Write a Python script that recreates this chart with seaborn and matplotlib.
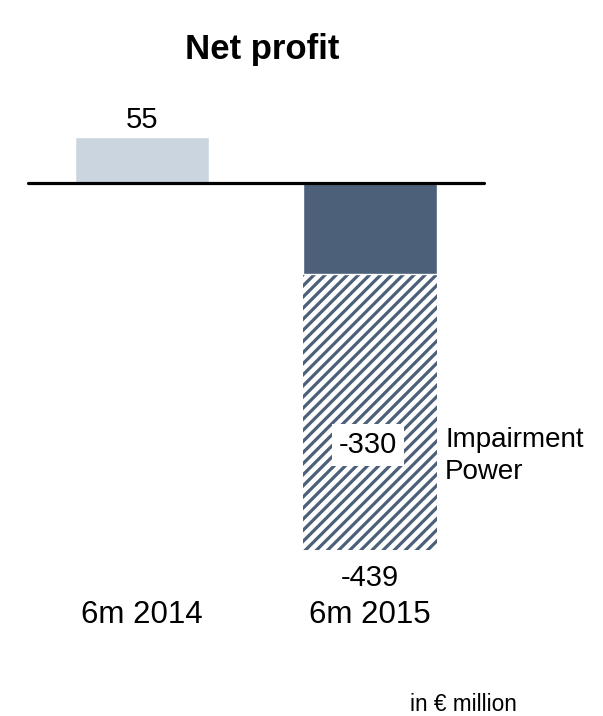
import pandas as pd
import seaborn as sns
import matplotlib.pyplot as plt

periods = ["6m 2014", "6m 2015"]
net_profit = [55, -439]
impairment_power = [0, -330]
# net profit without the impairment on power
underlying = [55, -109]

light = "#CBD5DF"
dark = "#4D6079"

df = pd.DataFrame({"period": periods, "net": net_profit,
                   "underlying": underlying, "impairment": impairment_power})

sns.set_theme(style="white")
plt.rcParams["font.family"] = ["Liberation Sans", "DejaVu Sans"]
plt.rcParams["hatch.linewidth"] = 2.3

fig = plt.figure(figsize=(6.03, 7.16), dpi=100)
ax = fig.add_axes([0, 0, 1, 1])

# full bar first (hatched part shows through below the solid piece)
sns.barplot(data=df, x="period", y="net", hue="period", palette=[light, "white"],
            width=0.588, legend=False, ax=ax, saturation=1)
hatched = ax.patches[1]
hatched.set_hatch("///")
hatched.set_edgecolor(dark)
hatched.set_linewidth(0)

sns.barplot(data=df, x="period", y="underlying", hue="period", palette=[light, dark],
            width=0.588, legend=False, ax=ax, saturation=1)

ax.set_xlim(-0.623, 2.022)
ax.set_ylim(-637.6, 218.9)
ax.axhline(0, xmin=28 / 603, xmax=484 / 603, color="black", lw=2.3)
ax.axis("off")

txt = dict(ha="center", va="center", color="black")
ax.text(0, net_profit[0] + 20, str(net_profit[0]), fontsize=21, **txt)
ax.text(1, net_profit[1] - 34, str(net_profit[1]), fontsize=21, **txt)
ax.text(0.99, -313, str(impairment_power[1]), fontsize=21,
        bbox=dict(facecolor="white", edgecolor="none", pad=5), **txt)
ax.text(1.33, -326, "Impairment\nPower", ha="left", va="center", fontsize=20,
        linespacing=1.3, color="black")

for i, p in enumerate(periods):
    ax.text(i, -517, p, fontsize=22.5, **txt)

ax.text(1.41, -624, "in € million", fontsize=16.3, **txt)
fig.text(262 / 603, 1 - 50 / 716, "Net profit", ha="center", va="center",
         fontsize=25, fontweight="bold", color="black")

fig.savefig("out.png", dpi=100)
